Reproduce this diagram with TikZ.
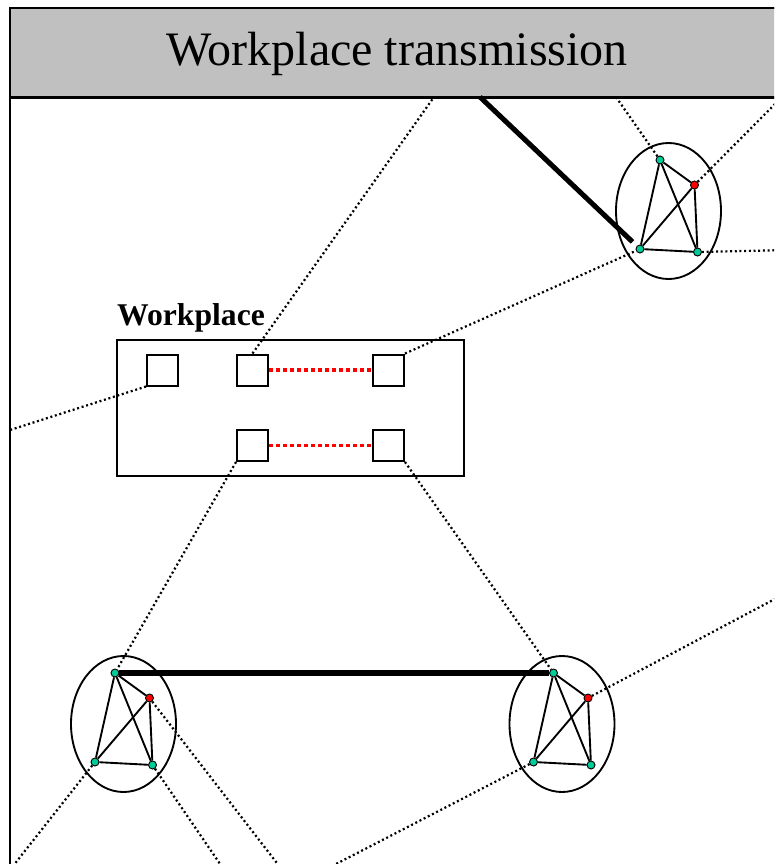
\documentclass[tikz,border=0pt]{standalone}
\usepackage{fontspec}
\setmainfont{Liberation Serif}
\usepackage{tikz}
\usetikzlibrary{shapes.geometric}
\usetikzlibrary{positioning}
\definecolor{hdrgray}{RGB}{192,192,192}
\definecolor{pgreen}{RGB}{0,204,153}

\begin{document}
\begin{tikzpicture}[x=0.03cm, y=-0.03cm,
    hh/.style={draw, ellipse, line width=1.6pt, minimum width=3.15cm, minimum height=4.08cm, inner sep=0pt},
    pers/.style={draw, circle, line width=0.8pt, minimum size=0.24cm, inner sep=0pt, fill=pgreen},
    sick/.style={pers, fill=red},
    desk/.style={draw, line width=1.7pt, minimum size=0.93cm, inner sep=0pt},
    contact/.style={line width=1.9pt, dash pattern=on 1.7pt off 2.3pt},
    cowork/.style={red, line width=3.4pt, dash pattern=on 3.4pt off 2.6pt},
    tie/.style={line width=1.6pt},
    strong/.style={line width=4.3pt}]

 \useasboundingbox (0,0) rectangle (774,864);
 \clip (0,0) rectangle (774,864);

	%frame and title
 \draw[line width=1.7pt] (10,8) rectangle (784,900);
 \node[draw, fill=hdrgray, line width=1.7pt, minimum width=23.22cm, minimum height=2.67cm, inner sep=0pt] (hdr) at (397,52.5) {};
 \draw[line width=2.4pt] (hdr.south west) -- (hdr.south east);
 \node[font=\fontsize{41}{48}\selectfont, anchor=base, inner sep=0pt] (title) at (397,65) {Workplace transmission};

	%workplace
 \node[draw, line width=1.7pt, minimum width=10.41cm, minimum height=4.08cm, inner sep=0pt] (wp) at (290.5,408) {};
 \node[font=\bfseries\fontsize{27}{32}\selectfont, anchor=base west, inner sep=0pt] (wplabel) at (117,325) {Workplace};
    \foreach \name/\x/\y in {w1/162.5/370, w2/252.5/370, w3/388.5/370, w4/252.5/445.5, w5/388.5/445.5}{
         \node[desk] (\name) at (\x,\y) {};
    }
 \draw[cowork] (w2.east) -- (w3.west);
 \draw[cowork] (w4.east) -- (w5.west);

	%households
    \foreach \h/\cx/\cy in {A/668.5/211, B/123.5/724, C/562/724}{
         \node[hh] (\h) at (\cx,\cy) {};
         \node[pers] (\h1) at (\cx-8.5,\cy-51) {};
         \node[sick] (\h2) at (\cx+26,\cy-26) {};
         \node[pers] (\h3) at (\cx-28.5,\cy+38) {};
         \node[pers] (\h4) at (\cx+29,\cy+41) {};
         \foreach \a/\b in {1/2,1/3,1/4,2/3,2/4,3/4}
              \draw[tie] (\h\a) -- (\h\b);
    }

	%free ends
 \coordinate (lft) at (10,430);
 \coordinate (topa) at (434,97);
 \coordinate (topb) at (480,97);
 \coordinate (topc) at (616,97);
 \coordinate (topd) at (782,97);
 \coordinate (rta) at (790,250);
 \coordinate (rtb) at (790,591);
 \coordinate (bta) at (2,880);
 \coordinate (btb) at (231,880);
 \coordinate (btc) at (290,880);
 \coordinate (btd) at (305,880);

	%contacts
 \draw[contact] (w1.south west) -- (lft);
 \draw[contact] (w2.north) -- (topa);
 \draw[contact] (w3.north east) -- (A3);
 \draw[contact] (w4.south west) -- (B1);
 \draw[contact] (w5.south east) -- (C1);
 \draw[contact] (A1) -- (topc);
 \draw[contact] (A2) -- (topd);
 \draw[contact] (A4) -- (rta);
 \draw[contact] (B2) -- (btc);
 \draw[contact] (B3) -- (bta);
 \draw[contact] (B4) -- (btb);
 \draw[contact] (C2) -- (rtb);
 \draw[contact] (C3) -- (btd);

	%strong links
 \draw[strong, shorten >=5pt] (topb) -- (A3);
 \draw[strong] (B1) -- (C1);

\end{tikzpicture}
\end{document}
